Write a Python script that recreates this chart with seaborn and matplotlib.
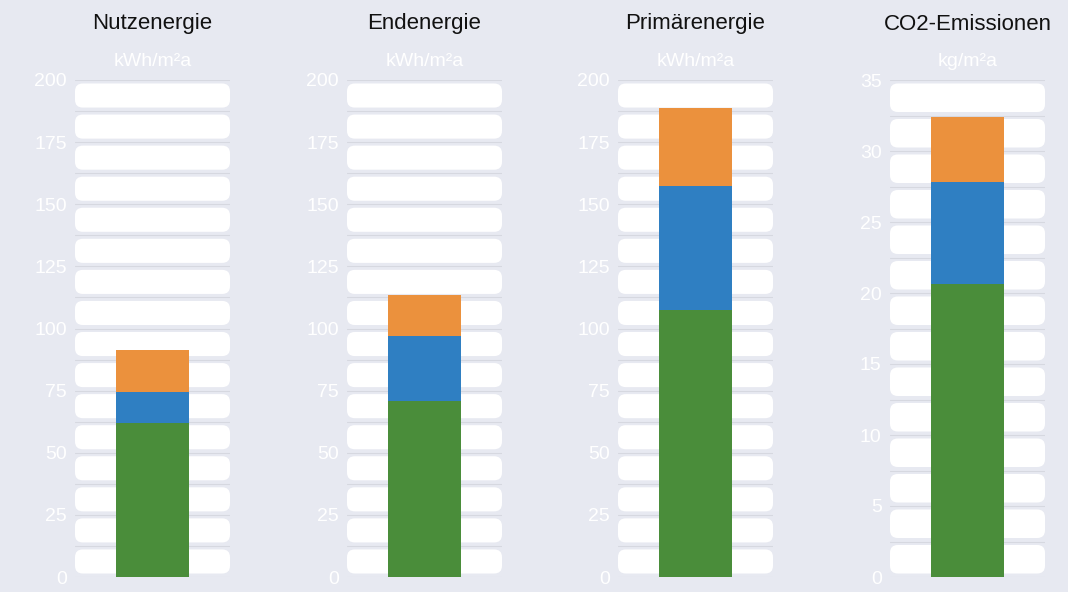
import matplotlib
matplotlib.use("Agg")
import matplotlib.pyplot as plt
from matplotlib.patches import FancyBboxPatch
import numpy as np
import pandas as pd
import seaborn as sns

# Panel data: each panel is one stacked bar (green base, blue middle, orange top)
titles = ["Nutzenergie", "Endenergie", "Primärenergie", "CO2-Emissionen"]
units = ["kWh/m²a", "kWh/m²a", "kWh/m²a", "kg/m²a"]
green_vals = [62.0, 70.8, 107.4, 20.6]
blue_vals = [12.4, 26.2, 49.9, 7.2]
orange_vals = [16.9, 16.5, 31.4, 4.6]
y_max = [200, 200, 200, 35]
tick_step = [25, 25, 25, 5]
band_step = [12.5, 12.5, 12.5, 2.5]

BG = "#e7e9f1"
GREEN = "#4a8d3a"
BLUE = "#2f7fc2"
ORANGE = "#eb913d"
LINE = "#d6d8e0"

sns.set_theme(style="white")
plt.rcParams["font.family"] = ["Liberation Sans", "DejaVu Sans"]

W, H = 1068, 592
fig = plt.figure(figsize=(W / 100, H / 100), dpi=100, facecolor=BG)

left_px = [75, 347, 618, 890]
ax_w_px, ax_top_px, ax_bot_px = 155, 80, 577
ax_h_px = ax_bot_px - ax_top_px

for i, title in enumerate(titles):
    ax = fig.add_axes([left_px[i] / W, (H - ax_bot_px) / H, ax_w_px / W, ax_h_px / H])
    ax.set_facecolor(BG)
    ymax = y_max[i]

    # white rounded bands between the faint grid lines
    step = band_step[i]
    n_bands = int(round(ymax / step))
    y_per_px = ymax / ax_h_px
    x_per_px = 1.0 / ax_w_px
    gap = 3.5 * y_per_px
    for k in range(n_bands):
        band = FancyBboxPatch(
            (-0.5, k * step + gap), 1.0, step - 2 * gap,
            boxstyle="round,pad=0,rounding_size=0.05",
            mutation_aspect=y_per_px / x_per_px,
            facecolor="white", edgecolor="none", zorder=0.5,
        )
        ax.add_patch(band)
    for k in range(n_bands + 1):
        ax.plot([-0.5, 0.5], [k * step, k * step], color=LINE, lw=0.8, zorder=0.4)

    # stacked bar drawn as overlapping cumulative totals
    g, b, o = green_vals[i], blue_vals[i], orange_vals[i]
    layers = [(g + b + o, ORANGE), (g + b, BLUE), (g, GREEN)]
    for total, col in layers:
        sns.barplot(x=[title], y=[total], color=col, width=0.477,
                    saturation=1, linewidth=0, edgecolor="none", ax=ax, zorder=2)

    ax.set_xlim(-0.5, 0.5)
    ax.set_ylim(0, ymax)
    ticks = np.arange(0, ymax + 0.01, tick_step[i])
    ax.set_yticks(ticks)
    ax.set_yticklabels([f"{t:g}" for t in ticks], color="white", fontsize=14)
    ax.tick_params(axis="y", length=0, pad=6)
    ax.set_xticks([])
    ax.set_xlabel("")
    ax.set_ylabel("")
    for s in ax.spines.values():
        s.set_visible(False)

    ax.text(0.5, 1 + 56 / ax_h_px, title, transform=ax.transAxes,
            ha="center", va="center", fontsize=16, color="#111111")
    ax.text(0.5, 1 + 18 / ax_h_px, units[i], transform=ax.transAxes,
            ha="center", va="center", fontsize=14, color="white")

fig.savefig("out.png", dpi=100, facecolor=BG)
